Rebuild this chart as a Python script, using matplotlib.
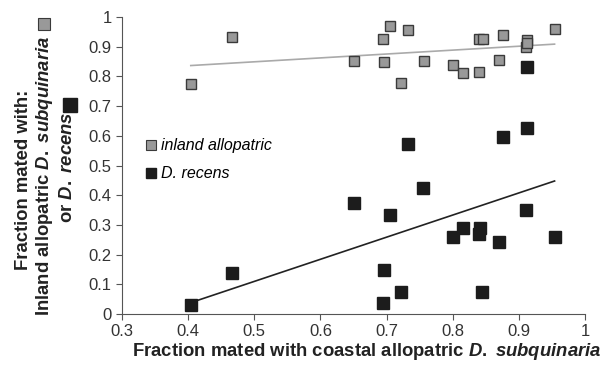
import numpy as np
import matplotlib.pyplot as plt
from matplotlib.lines import Line2D

plt.rcParams['font.family'] = ['Liberation Sans', 'DejaVu Sans']
plt.rcParams['mathtext.fontset'] = 'custom'
plt.rcParams['mathtext.it'] = 'Liberation Sans:bold:italic'
plt.rcParams['mathtext.rm'] = 'Liberation Sans:bold'

# ---- data ----
coastal = [0.404, 0.467, 0.651, 0.695, 0.696, 0.705, 0.722, 0.732, 0.757, 0.800,
           0.816, 0.839, 0.840, 0.846, 0.870, 0.876, 0.911, 0.913, 0.913, 0.954]
inland = [0.773, 0.934, 0.852, 0.925, 0.847, 0.971, 0.778, 0.957, 0.852, 0.837,
          0.811, 0.816, 0.925, 0.925, 0.856, 0.939, 0.900, 0.923, 0.912, 0.961]
recens_x = [0.404, 0.467, 0.651, 0.695, 0.696, 0.705, 0.722, 0.732, 0.755, 0.800,
            0.816, 0.839, 0.841, 0.845, 0.870, 0.876, 0.911, 0.913, 0.913, 0.954]
recens = [0.029, 0.139, 0.374, 0.038, 0.149, 0.332, 0.075, 0.572, 0.423, 0.259,
          0.291, 0.268, 0.291, 0.075, 0.241, 0.596, 0.351, 0.627, 0.832, 0.259]

xticks = [0.3, 0.4, 0.5, 0.6, 0.7, 0.8, 0.9, 1]
yticks = [0, 0.1, 0.2, 0.3, 0.4, 0.5, 0.6, 0.7, 0.8, 0.9, 1]

GRAY = '#999999'
BLACK = '#1c1c1c'
TXT = '#222222'

fig = plt.figure(figsize=(6.1, 3.68), dpi=100)
ax = fig.add_axes([0.2, 0.1467, 0.759, 0.807])

# trend lines (least squares, like the spreadsheet trendline)
for xs, ys, c in [(coastal, inland, '#aaaaaa'), (recens_x, recens, '#222222')]:
    k, b = np.polyfit(xs, ys, 1)
    xx = np.array([min(xs), max(xs)])
    ax.plot(xx, k * xx + b, color=c, lw=1.2, zorder=1)

ax.plot(coastal, inland, 's', ms=7.8, mfc=GRAY, mec='#3a3a3a', mew=1.0, ls='none', zorder=3)
ax.plot(recens_x, recens, 's', ms=8.5, mfc=BLACK, mec=BLACK, ls='none', zorder=3)

ax.set_xlim(0.3, 1)
ax.set_ylim(0, 1)
ax.set_xticks(xticks)
ax.set_yticks(yticks)
ax.set_xticklabels(['%g' % v for v in xticks])
ax.set_yticklabels(['%g' % v for v in yticks])
for s in ['top', 'right']:
    ax.spines[s].set_visible(False)
for s in ['left', 'bottom']:
    ax.spines[s].set_color('#555555')
ax.tick_params(direction='out', length=4, color='#555555', labelsize=12, labelcolor='#333333')

handles = [Line2D([], [], marker='s', ls='none', ms=7.5, mfc=GRAY, mec='#3a3a3a', mew=0.8),
           Line2D([], [], marker='s', ls='none', ms=7.5, mfc=BLACK, mec=BLACK)]
ax.legend(handles, ['inland allopatric', 'D. recens'], loc='upper left',
          bbox_to_anchor=(0.022, 0.64), frameon=False, handlelength=0.6,
          handletextpad=0.3, labelspacing=0.8, prop={'style': 'italic', 'size': 11.5})

fig.text(367 / 610, 1 - 351 / 368,
         r'Fraction mated with coastal allopatric $\mathit{D.}$ $\mathit{subquinaria}$',
         ha='center', va='center', fontsize=13.3, fontweight='bold', color=TXT)

ylab = dict(rotation=90, ha='center', va='center', fontsize=13.3, fontweight='bold', color=TXT)
fig.text(23 / 610, 1 - 180 / 368, 'Fraction mated with:', **ylab)
fig.text(45 / 610, 1 - 175.5 / 368, r'Inland allopatric $\mathit{D.}$ $\mathit{subquinaria}$', **ylab)
fig.text(67 / 610, 1 - 167 / 368, r'or $\mathit{D.}$ $\mathit{recens}$', **ylab)
fig.add_artist(Line2D([44 / 610], [1 - 24 / 368], marker='s', ms=9, mfc=GRAY, mec='#3a3a3a',
                      mew=0.8, transform=fig.transFigure))
fig.add_artist(Line2D([69.5 / 610], [1 - 104.5 / 368], marker='s', ms=10.5, mfc=BLACK, mec=BLACK,
                      transform=fig.transFigure))

fig.savefig('out.png', dpi=100)
